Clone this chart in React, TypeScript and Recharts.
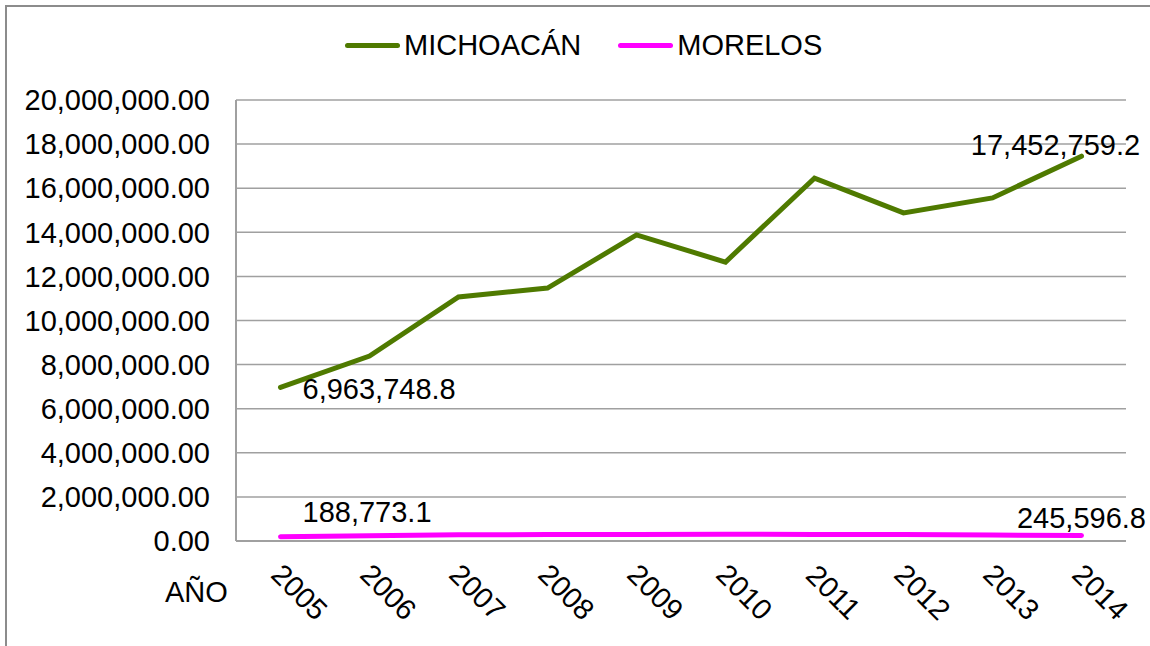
import { CartesianGrid, LabelList, Line, LineChart, XAxis, YAxis } from "recharts";

const YEARS = ["2005", "2006", "2007", "2008", "2009", "2010", "2011", "2012", "2013", "2014"];
const MICHOACAN = [
  6963748.8, 8390000, 11070000, 11470000, 13880000, 12650000, 16460000, 14880000, 15560000,
  17452759.2,
];
const MORELOS = [188773.1, 240000, 280000, 290000, 300000, 305000, 300000, 290000, 270000, 245596.8];
const Y_TICKS = [0, 2e6, 4e6, 6e6, 8e6, 10e6, 12e6, 14e6, 16e6, 18e6, 20e6];

const GREEN = "#4f7a00";
const MAGENTA = "#ff00ff";
const GRID = "#a0a0a0";
const FONT = "'Liberation Sans', Arial, sans-serif";
const FS = 29;

const data = YEARS.map((year, i) => ({ year, michoacan: MICHOACAN[i], morelos: MORELOS[i] }));

const fmtAxis = (v: number) =>
  v.toLocaleString("en-US", { minimumFractionDigits: 2, maximumFractionDigits: 2 });
const fmtLabel = (v: number) =>
  v.toLocaleString("en-US", { minimumFractionDigits: 1, maximumFractionDigits: 1 });

function YearTick({ x, y, payload }: { x: number; y: number; payload: { value: string } }) {
  const cx = x + 19;
  const cy = y + 51;
  return (
    <text
      x={cx}
      y={cy}
      dy="0.35em"
      textAnchor="middle"
      fontSize={FS}
      fontFamily={FONT}
      fill="#000"
      transform={`rotate(45, ${cx}, ${cy})`}
    >
      {payload.value}
    </text>
  );
}

// first and last point labels only, placed like the Excel original
function endLabels(series: "michoacan" | "morelos") {
  return (props: any) => {
    const { x, y, value, index } = props;
    const last = YEARS.length - 1;
    if (index !== 0 && index !== last) return null;
    let tx = x + 22;
    let ty = y + 1;
    let anchor: "start" | "middle" = "start";
    if (series === "michoacan" && index === last) {
      tx = x - 26;
      ty = y - 11;
      anchor = "middle";
    }
    if (series === "morelos" && index === 0) {
      ty = y - 25;
    }
    if (series === "morelos" && index === last) {
      tx = x;
      ty = y - 18;
      anchor = "middle";
    }
    return (
      <text
        x={tx}
        y={ty}
        dy="0.35em"
        textAnchor={anchor}
        fontSize={FS}
        fontFamily={FONT}
        fill="#000"
      >
        {fmtLabel(Number(value))}
      </text>
    );
  };
}

function LegendItem({ color, label }: { color: string; label: string }) {
  return (
    <div style={{ display: "flex", alignItems: "center" }}>
      <div style={{ width: 55, height: 5, borderRadius: 3, background: color, marginRight: 4 }} />
      <span>{label}</span>
    </div>
  );
}

export default function App() {
  return (
    <div
      style={{
        position: "absolute",
        left: 0,
        top: 0,
        width: 1150,
        height: 646,
        overflow: "hidden",
        background: "#fff",
        fontFamily: FONT,
        color: "#000",
      }}
    >
      <div
        style={{
          position: "absolute",
          left: 5,
          top: 5,
          width: 1200,
          height: 700,
          border: "2px solid #8c8c8c",
        }}
      />
      <div
        style={{
          position: "absolute",
          left: 345,
          top: 28,
          height: 34,
          display: "flex",
          alignItems: "center",
          gap: 37,
          fontSize: FS,
          lineHeight: "34px",
        }}
      >
        <LegendItem color={GREEN} label="MICHOACÁN" />
        <LegendItem color={MAGENTA} label="MORELOS" />
      </div>
      <div
        style={{
          position: "absolute",
          left: 165,
          top: 575,
          fontSize: FS,
          lineHeight: "34px",
        }}
      >
        AÑO
      </div>
      <div style={{ position: "absolute", left: 0, top: 0 }}>
        <LineChart
          width={1150}
          height={646}
          data={data}
          margin={{ top: 100, right: 24, bottom: 25, left: 0 }}
        >
          <CartesianGrid vertical={false} stroke={GRID} strokeWidth={1.5} />
          <XAxis
            dataKey="year"
            type="category"
            interval={0}
            height={80}
            padding={{ left: 44.5, right: 44.5 }}
            stroke={GRID}
            strokeWidth={2}
            tickLine={false}
            tickSize={0}
            tickMargin={0}
            tick={(p: any) => <YearTick {...p} />}
          />
          <YAxis
            type="number"
            domain={[0, 20000000]}
            ticks={Y_TICKS}
            width={236}
            stroke={GRID}
            strokeWidth={2}
            tickLine={false}
            tickSize={26}
            tickMargin={0}
            tickFormatter={fmtAxis}
            tick={{ fill: "#000", fontSize: FS, fontFamily: FONT }}
          />
          <Line
            type="linear"
            dataKey="michoacan"
            stroke={GREEN}
            strokeWidth={5}
            strokeLinecap="round"
            dot={false}
            activeDot={false}
            isAnimationActive={false}
          >
            <LabelList dataKey="michoacan" content={endLabels("michoacan")} />
          </Line>
          <Line
            type="linear"
            dataKey="morelos"
            stroke={MAGENTA}
            strokeWidth={5}
            strokeLinecap="round"
            dot={false}
            activeDot={false}
            isAnimationActive={false}
          >
            <LabelList dataKey="morelos" content={endLabels("morelos")} />
          </Line>
        </LineChart>
      </div>
    </div>
  );
}
